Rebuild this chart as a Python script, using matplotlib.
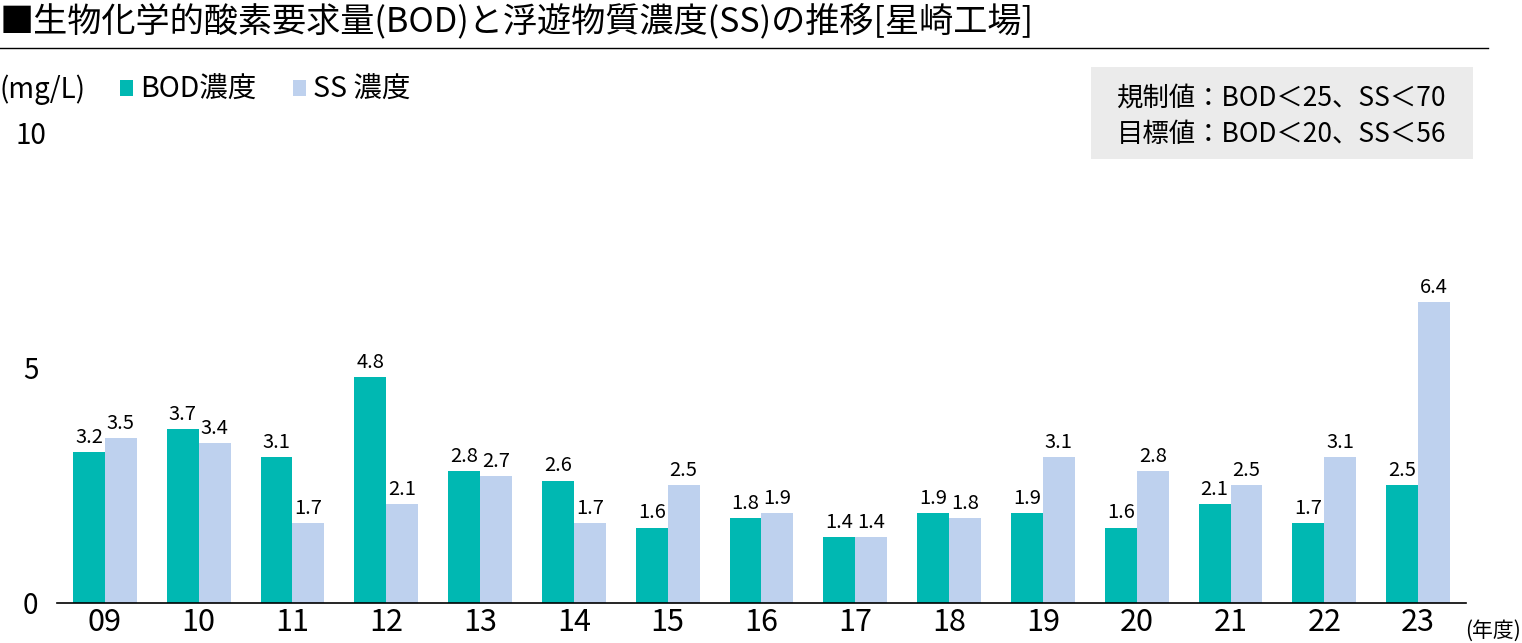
import numpy as np
import matplotlib
matplotlib.use('Agg')
import matplotlib.pyplot as plt
from matplotlib.patches import Rectangle
from matplotlib.lines import Line2D

plt.rcParams['font.family'] = ['Noto Sans CJK JP', 'DejaVu Sans']

# データ（年度ごとの濃度, mg/L）
years = ['09', '10', '11', '12', '13', '14', '15', '16', '17', '18', '19', '20', '21', '22', '23']
bod = [3.2, 3.7, 3.1, 4.8, 2.8, 2.6, 1.6, 1.8, 1.4, 1.9, 1.9, 1.6, 2.1, 1.7, 2.5]
ss = [3.5, 3.4, 1.7, 2.1, 2.7, 1.7, 2.5, 1.9, 1.4, 1.8, 3.1, 2.8, 2.5, 3.1, 6.4]
yticks = [0, 5, 10]

title = '■生物化学的酸素要求量(BOD)と浮遊物質濃度(SS)の推移[星崎工場]'
note1 = '規制値：BOD＜25、SS＜70'
note2 = '目標値：BOD＜20、SS＜56'

c_bod = '#00B8B2'
c_ss = '#BED1EE'

W, H = 1522, 643
fig = plt.figure(figsize=(W / 100, H / 100), dpi=100)
ax = fig.add_axes([57 / W, 1 - 602.7 / H, (1466 - 57) / W, (602.7 - 132.7) / H])

x = np.arange(len(years))
w = 0.34
b1 = ax.bar(x - w / 2, bod, w, color=c_bod, label='BOD濃度')
b2 = ax.bar(x + w / 2, ss, w, color=c_ss, label='SS 濃度')
ax.bar_label(b1, fmt='%.1f', padding=3, fontsize=14.5)
ax.bar_label(b2, fmt='%.1f', padding=3, fontsize=14.5)

ax.set_xlim(-0.51, len(years) - 0.49)
ax.set_ylim(0, 10)
ax.set_xticks(x)
ax.set_xticklabels(years, fontsize=22)
ax.set_yticks(yticks)
ax.set_yticklabels([str(v) for v in yticks], fontsize=20, ha='center')
ax.tick_params(axis='x', length=0, pad=3)
ax.tick_params(axis='y', length=0, pad=19)
for s in ['top', 'right', 'left']:
    ax.spines[s].set_visible(False)
ax.spines['bottom'].set_linewidth(1.2)

# タイトルと下線
fig.text(0, 1 - 22 / H, title, fontsize=24.6, va='center', ha='left')
fig.add_artist(Line2D([0, 1488 / W], [1 - 48 / H, 1 - 48 / H], color='black', lw=1, transform=fig.transFigure))

# 単位と凡例
fig.text(0, 1 - 90 / H, '(mg/L)', fontsize=20, va='center', ha='left')
fig.legend(handles=[b1, b2], loc='center left', bbox_to_anchor=(120 / W, 1 - 90 / H), ncol=2,
           frameon=False, fontsize=20.5, handlelength=0.45, handleheight=0.45,
           handletextpad=0.25, columnspacing=1.3, borderpad=0, borderaxespad=0)

# 規制値・目標値ボックス
fig.add_artist(Rectangle((1091 / W, 1 - 159 / H), (1473 - 1091) / W, (159 - 67) / H,
                         facecolor='#EBEBEB', edgecolor='none', transform=fig.transFigure))
fig.text(1117 / W, 1 - 98 / H, note1, fontsize=19, va='center', ha='left')
fig.text(1117 / W, 1 - 134 / H, note2, fontsize=19, va='center', ha='left')

fig.text(1521 / W, 1 - 631 / H, '(年度)', fontsize=15, va='center', ha='right')

fig.savefig('out.png', dpi=100)
